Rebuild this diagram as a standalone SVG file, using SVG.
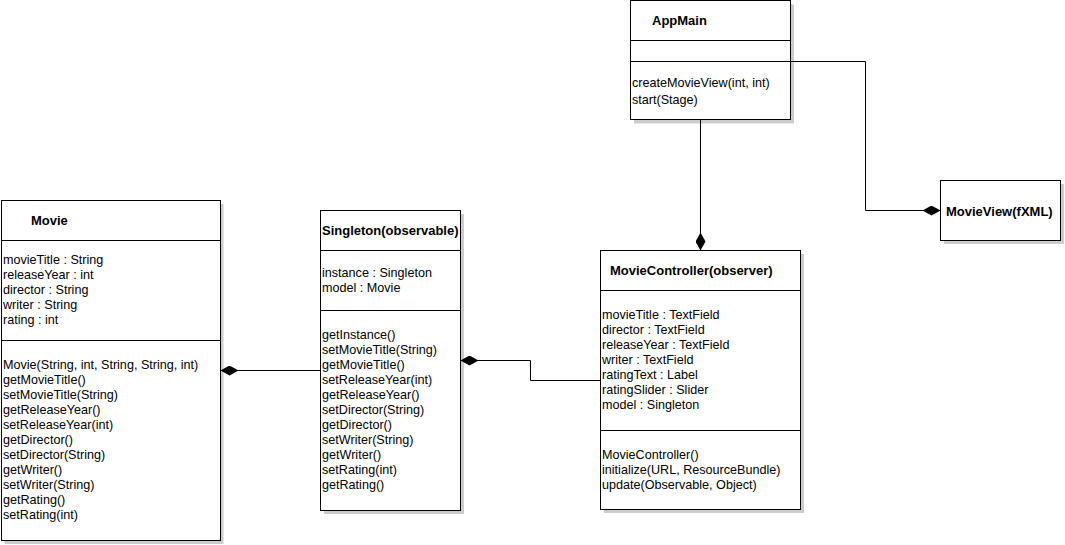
<svg xmlns="http://www.w3.org/2000/svg" width="1065" height="545" viewBox="0 0 1065 545">
  <style>
    .box { fill: #ffffff; stroke: #000000; stroke-width: 1; }
    .shadow { fill: #cccccc; stroke: none; }
    .div { stroke: #000000; stroke-width: 1; }
    .title { font-family: "Liberation Sans", Arial, sans-serif; font-size: 13px; font-weight: bold; fill: #000000; }
    .txt { font-family: "Liberation Sans", Arial, sans-serif; font-size: 12.6px; fill: #000000; }
    .conn { fill: none; stroke: #000000; stroke-width: 1; }
  </style>
  <defs>
    <marker id="composite" viewBox="0 0 18 10" refX="0" refY="5" markerWidth="18" markerHeight="10" markerUnits="userSpaceOnUse" orient="auto">
      <path d="M0,5 L9,0 L18,5 L9,10 Z" fill="#000000"/>
    </marker>
  </defs>
  <rect width="1065" height="545" fill="#ffffff"/>

  <!-- AppMain -->
  <g id="appmain">
    <rect class="shadow" x="634" y="4.5" width="160" height="119"/>
    <rect class="box" x="630.5" y="0.5" width="160" height="119"/>
    <line class="div" x1="630.5" y1="40.5" x2="790.5" y2="40.5"/>
    <line class="div" x1="630.5" y1="61.5" x2="790.5" y2="61.5"/>
    <text class="title" x="652" y="25">AppMain</text>
    <text class="txt" x="632" y="87">createMovieView(int, int)</text>
    <text class="txt" x="632" y="104">start(Stage)</text>
  </g>

  <!-- MovieView -->
  <g id="movieview">
    <rect class="shadow" x="944" y="184" width="120" height="60"/>
    <rect class="box" x="940.5" y="180.5" width="120" height="60"/>
    <text class="title" x="946" y="216">MovieView(fXML)</text>
  </g>

  <!-- Movie -->
  <g id="movie">
    <rect class="shadow" x="4.5" y="204" width="219" height="340"/>
    <rect class="box" x="1.5" y="200.5" width="219" height="340"/>
    <line class="div" x1="1.5" y1="240.5" x2="220.5" y2="240.5"/>
    <line class="div" x1="1.5" y1="340.5" x2="220.5" y2="340.5"/>
    <text class="title" x="31" y="225">Movie</text>
    <text class="txt" x="3" y="264">movieTitle : String</text>
    <text class="txt" x="3" y="279">releaseYear : int</text>
    <text class="txt" x="3" y="294">director : String</text>
    <text class="txt" x="3" y="309">writer : String</text>
    <text class="txt" x="3" y="324">rating : int</text>
    <text class="txt" x="3" y="369">Movie(String, int, String, String, int)</text>
    <text class="txt" x="3" y="384">getMovieTitle()</text>
    <text class="txt" x="3" y="399">setMovieTitle(String)</text>
    <text class="txt" x="3" y="414">getReleaseYear()</text>
    <text class="txt" x="3" y="429">setReleaseYear(int)</text>
    <text class="txt" x="3" y="444">getDirector()</text>
    <text class="txt" x="3" y="459">setDirector(String)</text>
    <text class="txt" x="3" y="474">getWriter()</text>
    <text class="txt" x="3" y="489">setWriter(String)</text>
    <text class="txt" x="3" y="504">getRating()</text>
    <text class="txt" x="3" y="519">setRating(int)</text>
  </g>

  <!-- Singleton -->
  <g id="singleton">
    <rect class="shadow" x="324" y="214" width="140" height="300"/>
    <rect class="box" x="320.5" y="210.5" width="140" height="300"/>
    <line class="div" x1="320.5" y1="250.5" x2="460.5" y2="250.5"/>
    <line class="div" x1="320.5" y1="310.5" x2="460.5" y2="310.5"/>
    <text class="title" x="322" y="235">Singleton(observable)</text>
    <text class="txt" x="322" y="277">instance : Singleton</text>
    <text class="txt" x="322" y="292">model : Movie</text>
    <text class="txt" x="322" y="339">getInstance()</text>
    <text class="txt" x="322" y="354">setMovieTitle(String)</text>
    <text class="txt" x="322" y="369">getMovieTitle()</text>
    <text class="txt" x="322" y="384">setReleaseYear(int)</text>
    <text class="txt" x="322" y="399">getReleaseYear()</text>
    <text class="txt" x="322" y="414">setDirector(String)</text>
    <text class="txt" x="322" y="429">getDirector()</text>
    <text class="txt" x="322" y="444">setWriter(String)</text>
    <text class="txt" x="322" y="459">getWriter()</text>
    <text class="txt" x="322" y="474">setRating(int)</text>
    <text class="txt" x="322" y="489">getRating()</text>
  </g>

  <!-- MovieController -->
  <g id="moviecontroller">
    <rect class="shadow" x="604" y="254" width="200" height="259"/>
    <rect class="box" x="600.5" y="250.5" width="200" height="259"/>
    <line class="div" x1="600.5" y1="290.5" x2="800.5" y2="290.5"/>
    <line class="div" x1="600.5" y1="430.5" x2="800.5" y2="430.5"/>
    <text class="title" x="610" y="275">MovieController(observer)</text>
    <text class="txt" x="602" y="319">movieTitle : TextField</text>
    <text class="txt" x="602" y="334">director : TextField</text>
    <text class="txt" x="602" y="349">releaseYear : TextField</text>
    <text class="txt" x="602" y="364">writer : TextField</text>
    <text class="txt" x="602" y="379">ratingText : Label</text>
    <text class="txt" x="602" y="394">ratingSlider : Slider</text>
    <text class="txt" x="602" y="409">model : Singleton</text>
    <text class="txt" x="602" y="459">MovieController()</text>
    <text class="txt" x="602" y="474">initialize(URL, ResourceBundle)</text>
    <text class="txt" x="602" y="489">update(Observable, Object)</text>
  </g>

  <!-- composition connectors -->
  <g id="connectors">
    <path class="conn" d="M220.5,370.5 H320.5" marker-start="url(#composite)"/>
    <path class="conn" d="M460.5,360.5 H530.5 V380.5 H600.5" marker-start="url(#composite)"/>
    <path class="conn" d="M700.5,250.5 V119.5" marker-start="url(#composite)"/>
    <path class="conn" d="M940.5,210.5 H865.5 V61.5 H790.5" marker-start="url(#composite)"/>
  </g>
</svg>
